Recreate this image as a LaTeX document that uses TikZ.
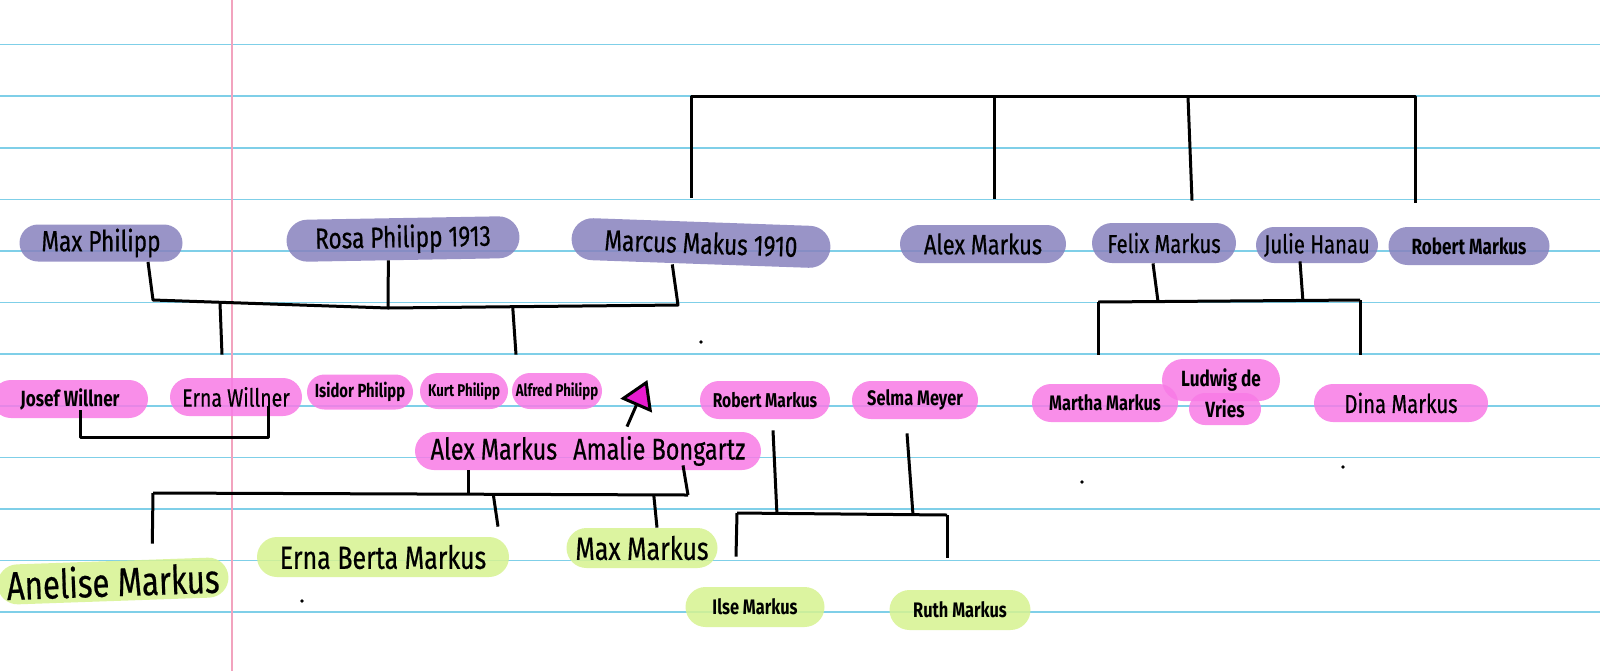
\documentclass[tikz,border=0pt]{standalone}
\usepackage{fontspec}
\setmainfont{Fira Sans}[FakeStretch=0.78,UprightFeatures={FakeBold=0.5}]
\usetikzlibrary{positioning}
\usetikzlibrary{calc}
\usetikzlibrary{shapes.misc}
\usetikzlibrary{arrows.meta}
\definecolor{elderfill}{HTML}{8882BE}
\definecolor{kidfill}{HTML}{F87BE6}
\definecolor{gkfill}{HTML}{D7F390}
\definecolor{ruling}{HTML}{7FCFE8}
\definecolor{margin}{HTML}{F2A3BE}
\definecolor{arrowpink}{HTML}{E81BD0}
\tikzset{
x=0.5pt,y=-0.5pt, % pixel units, y down
paper/.style={line width=0.8pt,draw=ruling},
redline/.style={line width=0.6pt,draw=margin},
marker/.style={line width=1.5pt,line join=round}, % all connectors like the pen
person/.style={rounded rectangle,inner sep=1pt,fill opacity=0.85,text opacity=1},
elder/.style={person,fill=elderfill},
kid/.style={person,fill=kidfill},
grandkid/.style={person,fill=gkfill},
wh/.style 2 args={minimum width=#1pt,minimum height=#2pt},
sz/.style={font=\fontsize{#1}{#1}\selectfont},
heavy/.style={font=\fontsize{#1}{#1}\selectfont\bfseries},
speck/.style={fill=black},
}
\begin{document}
\begin{tikzpicture}
\useasboundingbox (0,0) rectangle (1600,671);
\fill[white] (0,0) rectangle (1600,671);
\foreach \k in {0,...,11}
  \draw[paper] (0,{44.5+51.6*\k}) -- (1600,{44.5+51.6*\k});
\draw[redline] (232,0) -- (232,671);

% grandparents
\node[elder,wh={83.5}{18.5},sz=14.5] (maxp) at (101,243) {Max Philipp};
\node[elder,wh={118.5}{21},sz=14.5,rotate=1] (rosa) at (403,239) {Rosa Philipp 1913};
\node[elder,wh={131.5}{21},sz=14.5,rotate=-2] (marcus) at (701,243) {Marcus Makus 1910};
\node[elder,wh={85}{19},sz=14] (alexm) at (983,244) {Alex Markus};
\node[elder,wh={74}{20},sz=13] (felix) at (1164,243) {Felix Markus};
\node[elder,wh={63}{18},sz=13] (julie) at (1317,245) {Julie Hanau};
\node[elder,wh={82.5}{19},heavy=11] (robertm) at (1469,246) {Robert Markus};

% children
\node[kid,wh={80}{19},heavy=11] (josef) at (70,399) {Josef Willner};
\node[kid,wh={68}{19},sz=12.5] (erna) at (236,397) {Erna Willner};
\node[kid,wh={55}{17.5},heavy=9.5] (isidor) at (360,392) {Isidor Philipp};
\node[kid,wh={46}{18},heavy=8.5] (kurt) at (464,391) {Kurt Philipp};
\node[kid,wh={47}{18},heavy=8.5] (alfred) at (557,391) {Alfred Philipp};
\node[kid,wh={175}{19},sz=15] (couple) at (588,451) {Alex Markus\hspace{8pt}Amalie Bongartz};
\node[kid,wh={67}{19},heavy=10] (robert) at (765,400) {Robert Markus};
\node[kid,wh={65}{19},heavy=10.5] (selma) at (915,400) {Selma Meyer};
\node[kid,wh={61}{21},heavy=11] (ludwig) at (1221,380) {Ludwig de};
\node[kid,wh={38}{16},heavy=11] (vries) at (1225,409) {Vries};
\node[kid,wh={75}{19},heavy=10.5] (martha) at (1105,403) {Martha Markus};
\node[kid,wh={89}{19},sz=13] (dina) at (1401,403) {Dina Markus};

% grandchildren
\node[grandkid,wh={117.5}{20},sz=20,rotate=2] (anelise) at (113,581) {Anelise Markus};
\node[grandkid,wh={128}{20},sz=16] (ernab) at (383,557) {Erna Berta Markus};
\node[grandkid,wh={77.5}{20},sz=16] (maxm) at (642,548) {Max Markus};
\node[grandkid,wh={71.5}{20},heavy=10.5] (ilse) at (755,607) {Ilse Markus};
\node[grandkid,wh={72.5}{20},heavy=10.5] (ruth) at (960,610) {Ruth Markus};

\begin{scope}[marker]
% top bracket
\draw ($(marcus.north)+(-10,-24)$) |- ($(robertm.north)+(-54,-130)$) -- ($(robertm.north)+(-54,-24)$);
\draw ($(alexm.north)+(11,-128)$) -- ($(alexm.north)+(11,-26)$);
\draw ($(felix.north)+(24,-126)$) -- ($(felix.north)+(28,-22)$);

% Philipp family
\coordinate (pbarL) at (153,300);
\coordinate (pbarM) at (388,308);
\coordinate (pbarR) at (678,305);
\draw ($(maxp.south)+(47,0)$) -- (pbarL) -- (pbarM) -- (pbarR) -- ($(marcus.south)+(-28,0)$);
\draw ($(rosa.south)+(-15,0)$) -- (pbarM);
\draw ($(pbarL)!0.285!(pbarM)$) -- ($(erna.north)+(-14,-23)$);
\draw ($(pbarM)!0.43!(pbarR)$) -- ($(alfred.north)+(-41,-18)$);

% Willner couple
\draw ($(josef.south)+(10,-8)$) -- ($(josef.south)+(10,19)$) -| ($(erna.south)+(32,-10)$);

% Alex and Amalie
\coordinate (cbarL) at (153,493);
\coordinate (cbarR) at (688,495);
\draw ($(couple.south)+(-120,0)$) -- ($(couple.south)+(-120,23)$);
\draw ($(couple.south)+(95,-5)$) -- (cbarR);
\draw (cbarL) -- (cbarR);
\draw (cbarL) -- ($(anelise.north)+(40,-17)$);
\draw ($(cbarL)!0.636!(cbarR)$) -- ($(ernab.north)+(115,-10)$);
\draw ($(cbarL)!0.936!(cbarR)$) -- ($(maxm.north)+(15,0)$);
\draw[-{Triangle[length=14pt,width=17pt,fill=arrowpink]}] ($(couple.north)+(39,-5)$) -- ($(alfred.east)+(45,-11)$);

% Robert and Selma
\coordinate (rbarL) at (737,513);
\coordinate (rbarR) at (947,515);
\draw ($(robert.south)+(8,11)$) -- ($(rbarL)!0.19!(rbarR)$);
\draw ($(selma.south)+(-8,14)$) -- ($(rbarL)!0.838!(rbarR)$);
\draw (rbarL) -- (rbarR);
\draw (rbarL) -- ($(ilse.north)+(-19,-30)$);
\draw (rbarR) -- ($(ruth.north)+(-13,-32)$);

% Felix and Julie
\coordinate (fbarL) at (1098,302);
\coordinate (fbarR) at (1360,300);
\draw ($(felix.south)+(-11,0)$) -- ($(fbarL)!0.229!(fbarR)$);
\draw ($(julie.south)+(-17,-2)$) -- ($(fbarL)!0.782!(fbarR)$);
\draw (fbarL) -- (fbarR);
\draw (fbarL) -- ($(martha.north)+(-7,-29)$);
\draw (fbarR) -- ($(dina.north)+(-41,-29)$);
\end{scope}

% stray dots
\foreach \p in {(701,342),(302,601),(1082,482),(1343,467)}
  \fill[speck] \p circle (0.9pt);
\end{tikzpicture}
\end{document}
